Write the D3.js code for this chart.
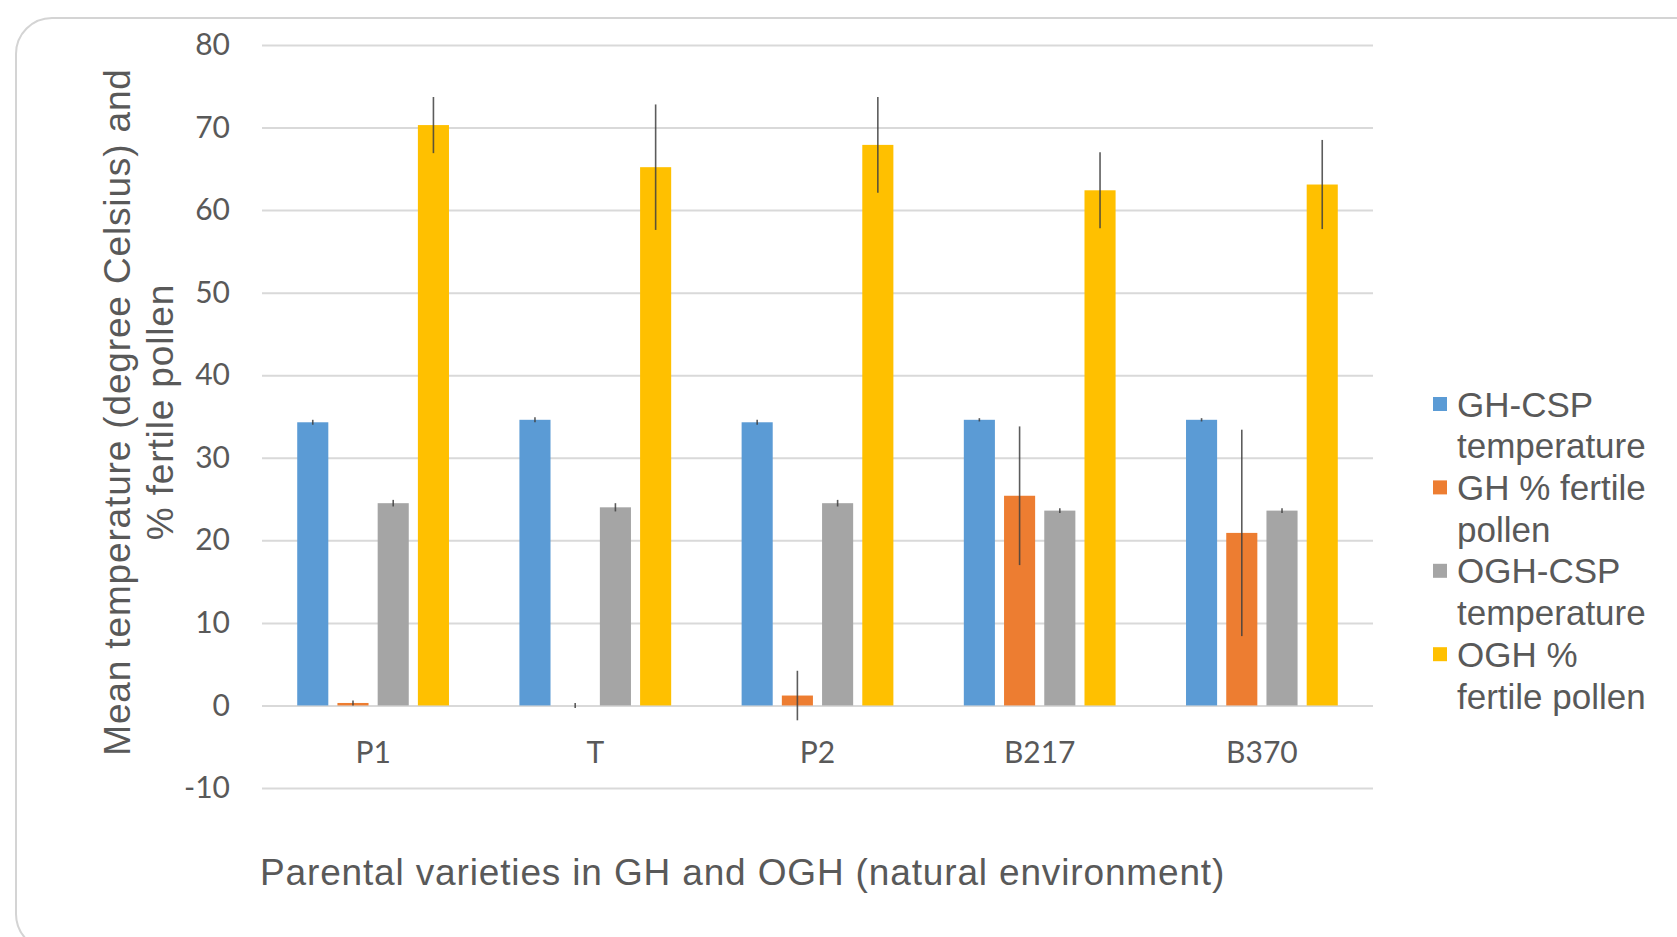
<html>
<head>
<meta charset="utf-8">
<style>
  body { margin: 0; background: #fff; }
  .tick text { fill: #595959; }
</style>
<script src="https://d3js.org/d3.v7.min.js"></script>
</head>
<body>
<div id="chart"></div>
<script>
// data
var categories = ["P1", "T", "P2", "B217", "B370"];
var seriesNames = ["GH-CSP temperature", "GH % fertile pollen", "OGH-CSP temperature", "OGH % fertile pollen"];
var seriesColors = ["#5B9BD5", "#ED7D31", "#A5A5A5", "#FFC000"];
var ghCspTemp   = [34.3, 34.6, 34.3, 34.6, 34.6];
var ghPollen    = [0.3, 0.0, 1.2, 25.4, 20.9];
var oghCspTemp  = [24.5, 24.0, 24.5, 23.6, 23.6];
var oghPollen   = [70.3, 65.2, 67.9, 62.4, 63.1];
var ghCspErr    = [0.3, 0.3, 0.3, 0.2, 0.2];
var ghPollenErr = [0.3, 0.3, 3.0, 8.4, 12.5];
var oghCspErr   = [0.4, 0.5, 0.4, 0.3, 0.3];
var oghPollenErr= [3.4, 7.6, 5.8, 4.6, 5.4];
var yTicks = [-10, 0, 10, 20, 30, 40, 50, 60, 70, 80];

var values = [ghCspTemp, ghPollen, oghCspTemp, oghPollen];
var errors = [ghCspErr, ghPollenErr, oghCspErr, oghPollenErr];

var W = 1677, H = 937;
var plot = {left: 262, right: 1373, top: 45, bottom: 788};

var svg = d3.select("#chart").append("svg").attr("width", W).attr("height", H);

// card outline
svg.append("rect").attr("x", 16).attr("y", 18).attr("width", 1700).attr("height", 932)
   .attr("rx", 36).attr("fill", "#fff").attr("stroke", "#d4d4d4").attr("stroke-width", 2);

var y = d3.scaleLinear().domain([-10, 80]).range([plot.bottom, plot.top]);
var x0 = d3.scaleBand().domain(categories).range([plot.left, plot.right])
           .paddingInner(0.317).paddingOuter(0.1585);
var x1 = d3.scaleBand().domain(d3.range(4)).range([0, x0.bandwidth()]).paddingInner(0.227);

// y axis + gridlines
var yAxis = svg.append("g").attr("transform", "translate(" + plot.left + ",0)")
   .call(d3.axisLeft(y).tickValues(yTicks).tickSize(-(plot.right - plot.left)).tickPadding(32)
           .tickFormat(function(d) { return String(d); }));
yAxis.select(".domain").remove();
yAxis.selectAll(".tick line").attr("stroke", "#d9d9d9").attr("stroke-width", 2);
yAxis.selectAll(".tick text").attr("font-family", "Lato").attr("font-size", 30);

// bars
var groups = svg.selectAll(".grp").data(categories).enter().append("g")
   .attr("transform", function(d) { return "translate(" + x0(d) + ",0)"; });

groups.each(function(c, ci) {
  var g = d3.select(this);
  for (var s = 0; s < 4; s++) {
    var v = values[s][ci];
    g.append("rect").attr("x", x1(s)).attr("width", x1.bandwidth())
     .attr("y", y(Math.max(v, 0))).attr("height", Math.abs(y(v) - y(0)))
     .attr("fill", seriesColors[s]);
  }
  for (var s = 0; s < 4; s++) {
    var v = values[s][ci], e = errors[s][ci];
    var cx = x1(s) + x1.bandwidth() / 2;
    g.append("line").attr("x1", cx).attr("x2", cx)
     .attr("y1", y(v + e)).attr("y2", y(v - e))
     .attr("stroke", "#404040").attr("stroke-width", 1.6).attr("stroke-opacity", 0.85);
  }
});

// category labels
var xAxis = svg.append("g").attr("transform", "translate(0," + y(0) + ")")
   .call(d3.axisBottom(x0).tickSize(0).tickPadding(36));
xAxis.select(".domain").remove();
xAxis.selectAll(".tick text").attr("font-family", "Lato").attr("font-size", 30);

// axis titles
svg.append("text").attr("transform", "translate(130,412) rotate(-90)")
   .attr("text-anchor", "middle").attr("font-family", "Liberation Sans").attr("font-size", 37)
   .attr("letter-spacing", 0.85).attr("fill", "#595959")
   .selectAll("tspan").data(["Mean temperature (degree Celsius) and", "% fertile pollen"]).enter()
   .append("tspan").attr("x", 0).attr("dy", function(d, i) { return i ? "1.15em" : 0; })
   .text(function(d) { return d; });

svg.append("text").attr("x", 260).attr("y", 885)
   .attr("font-family", "Liberation Sans").attr("font-size", 37).attr("letter-spacing", 0.85)
   .attr("fill", "#595959")
   .text("Parental varieties in GH and OGH (natural environment)");

// legend
var legendLines = [["GH-CSP", "temperature"], ["GH % fertile", "pollen"], ["OGH-CSP", "temperature"], ["OGH %", "fertile pollen"]];
var lg = svg.append("g").attr("transform", "translate(1433,404)");
legendLines.forEach(function(lines, i) {
  var yy = i * 2 * 41.7;
  lg.append("rect").attr("x", 0).attr("y", yy - 7).attr("width", 14).attr("height", 14).attr("fill", seriesColors[i]);
  lines.forEach(function(t, j) {
    lg.append("text").attr("x", 24).attr("y", yy + j * 41.7).attr("dy", "0.36em")
      .attr("font-family", "Liberation Sans").attr("font-size", 35).attr("fill", "#595959").text(t);
  });
});
</script>
</body>
</html>
